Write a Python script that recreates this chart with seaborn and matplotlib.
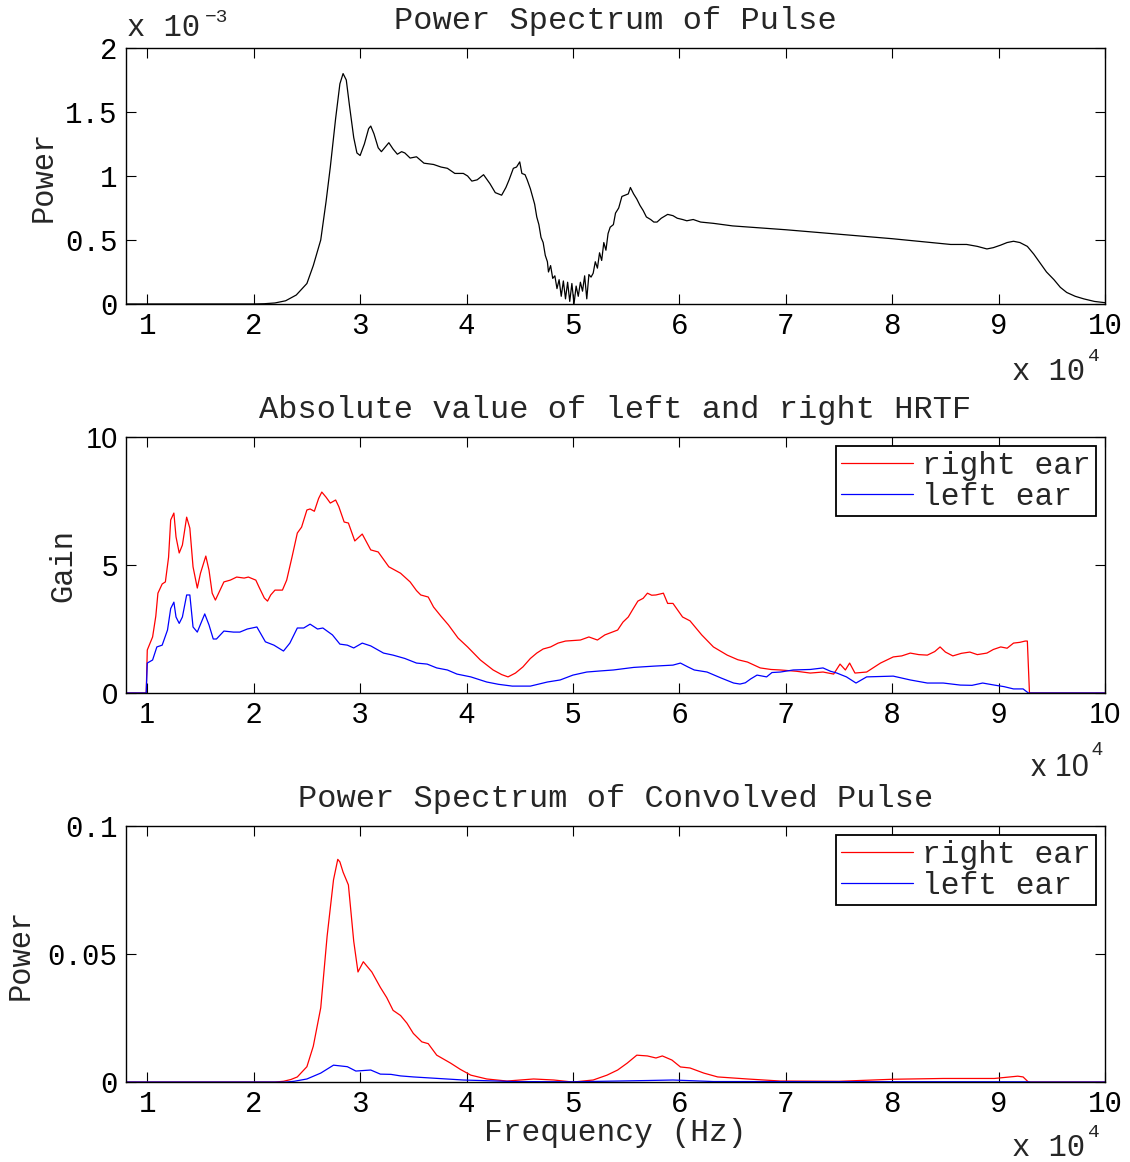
import numpy as np
import pandas as pd
import matplotlib
import matplotlib.pyplot as plt
import seaborn as sns

matplotlib.use("Agg")

sns.set_style("ticks")
MONO = ['Liberation Mono', 'DejaVu Sans Mono']
SANS = ['Liberation Sans', 'DejaVu Sans']
plt.rcParams['font.family'] = MONO

# frequency in units of 10^4 Hz, as on the axis
# 1) power spectrum of the pulse (units of 10^-3)
freq_pulse = [0.8, 1.5, 2.0, 2.1, 2.2, 2.3, 2.4, 2.5, 2.56, 2.63, 2.68, 2.72, 2.77, 2.81, 2.84,
              2.87, 2.90, 2.94, 2.97, 3.0, 3.04, 3.08, 3.10, 3.13, 3.17, 3.20, 3.24, 3.27, 3.31,
              3.35, 3.39, 3.42, 3.47, 3.53, 3.60, 3.69, 3.76, 3.82, 3.89, 3.97, 4.01, 4.05, 4.10,
              4.16, 4.22, 4.27, 4.33, 4.37, 4.40, 4.44, 4.47, 4.50, 4.52, 4.55, 4.57, 4.60, 4.62,
              4.64, 4.66, 4.68, 4.70, 4.72, 4.74, 4.76, 4.77, 4.79, 4.81, 4.83, 4.85, 4.87, 4.89,
              4.91, 4.93, 4.95, 4.97, 4.99, 5.01, 5.03, 5.05, 5.07, 5.09, 5.11, 5.13, 5.15, 5.17,
              5.19, 5.21, 5.23, 5.25, 5.27, 5.29, 5.31, 5.33, 5.35, 5.38, 5.40, 5.43, 5.46, 5.49,
              5.52, 5.54, 5.57, 5.60, 5.63, 5.66, 5.69, 5.73, 5.76, 5.79, 5.83, 5.89, 5.94, 5.98,
              6.03, 6.07, 6.13, 6.20, 6.32, 6.5, 7.0, 7.5, 8.0, 8.3, 8.55, 8.7, 8.8, 8.89, 8.95,
              9.02, 9.08, 9.14, 9.2, 9.27, 9.33, 9.39, 9.45, 9.52, 9.58, 9.64, 9.72, 9.80, 9.9, 10.0]
power_pulse = [0, 0, 0, 0.002, 0.008, 0.025, 0.07, 0.16, 0.3, 0.5, 0.8, 1.07, 1.45, 1.72, 1.80,
               1.75, 1.55, 1.30, 1.18, 1.16, 1.25, 1.37, 1.39, 1.33, 1.22, 1.19, 1.23, 1.26, 1.21,
               1.17, 1.19, 1.18, 1.14, 1.15, 1.10, 1.09, 1.07, 1.06, 1.02, 1.02, 1.00, 0.96, 0.97,
               1.01, 0.94, 0.87, 0.85, 0.91, 0.97, 1.06, 1.07, 1.11, 1.02, 1.01, 0.97, 0.90, 0.84,
               0.78, 0.68, 0.62, 0.52, 0.48, 0.38, 0.33, 0.25, 0.30, 0.20, 0.22, 0.12, 0.19, 0.06,
               0.18, 0.04, 0.17, 0.02, 0.16, 0.0, 0.14, 0.06, 0.17, 0.10, 0.22, 0.04, 0.23, 0.21,
               0.24, 0.33, 0.28, 0.40, 0.34, 0.48, 0.42, 0.55, 0.60, 0.62, 0.71, 0.75, 0.84, 0.85,
               0.86, 0.91, 0.86, 0.82, 0.77, 0.73, 0.68, 0.66, 0.64, 0.64, 0.67, 0.70, 0.69, 0.67,
               0.66, 0.65, 0.66, 0.64, 0.63, 0.61, 0.58, 0.545, 0.51, 0.485, 0.465, 0.465, 0.45, 0.43, 0.44,
               0.46, 0.48, 0.49, 0.48, 0.45, 0.39, 0.32, 0.25, 0.19, 0.13, 0.09, 0.06, 0.04, 0.02, 0.01]

# 2) HRTF gain
freq_hrtf_right = [0.8, 0.99, 1.0, 1.05, 1.08, 1.10, 1.14, 1.17, 1.20, 1.22, 1.25, 1.27, 1.30, 1.33,
                   1.37, 1.40, 1.43, 1.47, 1.50, 1.55, 1.58, 1.61, 1.64, 1.67, 1.72, 1.78, 1.84, 1.91,
                   1.95, 2.02, 2.05, 2.10, 2.13, 2.16, 2.20, 2.27, 2.31, 2.36, 2.41, 2.45, 2.50, 2.53,
                   2.57, 2.61, 2.64, 2.68, 2.72, 2.77, 2.80, 2.85, 2.89, 2.95, 3.02, 3.10, 3.17, 3.27,
                   3.38, 3.47, 3.53, 3.57, 3.64, 3.69, 3.76, 3.83, 3.92, 4.01, 4.13, 4.25, 4.33, 4.39,
                   4.46, 4.53, 4.60, 4.66, 4.72, 4.79, 4.86, 4.93, 5.07, 5.15, 5.23, 5.30, 5.42, 5.47,
                   5.52, 5.56, 5.61, 5.66, 5.70, 5.74, 5.78, 5.85, 5.89, 5.94, 6.03, 6.10, 6.21, 6.32,
                   6.45, 6.55, 6.64, 6.76, 6.86, 6.95, 7.1, 7.23, 7.35, 7.45, 7.51, 7.56, 7.60, 7.65,
                   7.76, 7.89, 8.01, 8.09, 8.17, 8.25, 8.33, 8.40, 8.45, 8.50, 8.57, 8.65, 8.73, 8.80,
                   8.89, 8.95, 9.02, 9.08, 9.14, 9.20, 9.25, 9.27, 9.29, 10.0]
gain_right = [0, 0, 1.68, 2.19, 3.0, 3.9, 4.26, 4.34, 5.3, 6.76, 7.03, 6.1, 5.47, 5.78,
              6.87, 6.44, 4.93, 4.1, 4.68, 5.35, 4.8, 3.9, 3.63, 3.9, 4.34, 4.41, 4.53, 4.49,
              4.53, 4.41, 4.14, 3.71, 3.59, 3.83, 4.02, 4.02, 4.41, 5.31, 6.25, 6.48, 7.15, 7.19,
              7.1, 7.6, 7.85, 7.65, 7.42, 7.54, 7.28, 6.68, 6.64, 5.94, 6.21, 5.59, 5.51, 4.93,
              4.68, 4.34, 4.0, 3.83, 3.75, 3.36, 3.0, 2.66, 2.15, 1.8, 1.29, 0.9, 0.72, 0.63,
              0.78, 1.02, 1.35, 1.56, 1.72, 1.8, 1.95, 2.03, 2.07, 2.19, 2.07, 2.27, 2.46, 2.77,
              2.97, 3.25, 3.59, 3.7, 3.9, 3.82, 3.83, 3.9, 3.5, 3.5, 2.97, 2.82, 2.27, 1.8,
              1.48, 1.3, 1.21, 0.98, 0.92, 0.9, 0.85, 0.78, 0.82, 0.74, 1.13, 0.9, 1.17, 0.78,
              0.82, 1.17, 1.41, 1.45, 1.56, 1.5, 1.48, 1.62, 1.8, 1.6, 1.45, 1.55, 1.6, 1.5,
              1.56, 1.7, 1.8, 1.75, 1.95, 1.98, 2.03, 2.03, 0, 0]

freq_hrtf_left = [0.8, 0.99, 1.0, 1.05, 1.09, 1.14, 1.19, 1.22, 1.25, 1.27, 1.30, 1.33, 1.37, 1.40,
                  1.43, 1.47, 1.54, 1.58, 1.62, 1.65, 1.72, 1.81, 1.87, 1.94, 2.03, 2.11, 2.19, 2.28,
                  2.34, 2.41, 2.47, 2.53, 2.60, 2.65, 2.74, 2.81, 2.88, 2.94, 3.02, 3.10, 3.22, 3.31,
                  3.42, 3.53, 3.63, 3.72, 3.82, 3.91, 4.04, 4.19, 4.30, 4.43, 4.60, 4.76, 4.88, 5.0,
                  5.13, 5.25, 5.38, 5.57, 5.76, 5.94, 6.01, 6.08, 6.14, 6.26, 6.39, 6.51, 6.57, 6.62,
                  6.67, 6.73, 6.82, 6.87, 6.95, 7.07, 7.23, 7.35, 7.42, 7.48, 7.57, 7.66, 7.76, 8.01,
                  8.17, 8.33, 8.48, 8.64, 8.75, 8.85, 8.96, 9.05, 9.14, 9.23, 9.28, 10.0]
gain_left = [0, 0, 1.17, 1.29, 1.8, 1.87, 2.46, 3.3, 3.55, 2.97, 2.72, 2.97, 3.83, 3.83,
             2.58, 2.38, 3.09, 2.66, 2.11, 2.11, 2.42, 2.38, 2.38, 2.5, 2.58, 2.0, 1.87, 1.64,
             1.95, 2.54, 2.54, 2.69, 2.5, 2.54, 2.27, 1.91, 1.87, 1.76, 1.95, 1.84, 1.56, 1.48,
             1.35, 1.17, 1.13, 0.98, 0.9, 0.74, 0.63, 0.43, 0.34, 0.27, 0.27, 0.43, 0.51, 0.70,
             0.82, 0.86, 0.9, 1.0, 1.05, 1.09, 1.17, 1.02, 0.9, 0.82, 0.59, 0.39, 0.35, 0.40,
             0.55, 0.7, 0.63, 0.8, 0.82, 0.9, 0.92, 0.98, 0.85, 0.78, 0.63, 0.39, 0.63, 0.66,
             0.51, 0.39, 0.39, 0.31, 0.30, 0.39, 0.31, 0.25, 0.16, 0.16, 0.0, 0]

# 3) power spectrum of the convolved pulse
freq_conv_right = [0.8, 2.2, 2.28, 2.35, 2.41, 2.50, 2.56, 2.63, 2.69, 2.75, 2.79, 2.81, 2.84, 2.89,
                   2.94, 2.98, 3.03, 3.11, 3.19, 3.25, 3.31, 3.38, 3.44, 3.50, 3.58, 3.64, 3.72, 3.85,
                   3.94, 4.04, 4.19, 4.38, 4.63, 4.82, 5.0, 5.19, 5.32, 5.42, 5.51, 5.60, 5.70, 5.78,
                   5.84, 5.93, 6.01, 6.10, 6.23, 6.36, 6.64, 6.95, 7.5, 8.01, 8.48, 8.96, 9.18, 9.23,
                   9.28, 10.0]
power_conv_right = [0, 0, 0.0003, 0.001, 0.002, 0.006, 0.014, 0.029, 0.057, 0.079, 0.087, 0.086, 0.082, 0.077,
                    0.055, 0.043, 0.047, 0.043, 0.037, 0.033, 0.028, 0.026, 0.023, 0.019, 0.0157, 0.015, 0.0105, 0.0074,
                    0.005, 0.0027, 0.0012, 0.0004, 0.0012, 0.0008, 0.0, 0.0008, 0.0027, 0.0047, 0.0074, 0.0105, 0.0102, 0.0094,
                    0.0102, 0.0086, 0.0059, 0.0055, 0.0035, 0.002, 0.0012, 0.0004, 0.0003, 0.0011, 0.0014, 0.0014, 0.0023, 0.002,
                    0.0, 0]

freq_conv_left = [0.8, 2.3, 2.38, 2.50, 2.63, 2.75, 2.88, 2.96, 3.10, 3.19, 3.29, 3.38, 3.50, 3.97,
                  4.44, 5.0, 5.7, 5.94, 6.32, 9.28, 9.3, 10.0]
power_conv_left = [0, 0, 0.0003, 0.0012, 0.0035, 0.0066, 0.006, 0.0043, 0.0047, 0.0031, 0.003, 0.0024, 0.002, 0.0008,
                   0.0002, 0.0001, 0.0006, 0.0008, 0.0002, 0.0001, 0, 0]

x_ticks = [1, 2, 3, 4, 5, 6, 7, 8, 9, 10]

fig = plt.figure(figsize=(11.30, 11.62), dpi=100)
L, W, H = 0.1115, 0.8664, 0.2203
ax1 = fig.add_axes([L, 0.7384, W, H])
ax2 = fig.add_axes([L, 0.4036, W, H])
ax3 = fig.add_axes([L, 0.0688, W, H])

sns.lineplot(x=freq_pulse, y=power_pulse, ax=ax1, color="black", linewidth=0.9, sort=False)
sns.lineplot(x=freq_hrtf_right, y=gain_right, ax=ax2, color="#ff0000", linewidth=0.9, sort=False, label="right ear")
sns.lineplot(x=freq_hrtf_left, y=gain_left, ax=ax2, color="#0000ff", linewidth=0.9, sort=False, label="left ear")
sns.lineplot(x=freq_conv_right, y=power_conv_right, ax=ax3, color="#ff0000", linewidth=0.9, sort=False, label="right ear")
sns.lineplot(x=freq_conv_left, y=power_conv_left, ax=ax3, color="#0000ff", linewidth=0.9, sort=False, label="left ear")


def fmt(v):
    return "%g" % v


setups = [
    (ax1, [0, 0.5, 1, 1.5, 2], (0, 2), MONO, "Power Spectrum of Pulse", "Power", -0.069),
    (ax2, [0, 5, 10], (0, 10), SANS, "Absolute value of left and right HRTF", "Gain", -0.049),
    (ax3, [0, 0.05, 0.1], (0, 0.1), MONO, "Power Spectrum of Convolved Pulse", "Power", -0.092),
]
for ax, yt, ylim, tick_font, title, ylab, ylab_x in setups:
    ax.set_xlim(0.8, 10)
    ax.set_ylim(*ylim)
    ax.set_xticks(x_ticks, labels=[fmt(t) for t in x_ticks])
    ax.set_yticks(yt, labels=[fmt(t) for t in yt])
    for lbl in ax.get_xticklabels() + ax.get_yticklabels():
        lbl.set_fontfamily(tick_font)
        lbl.set_fontsize(21)
    ax.tick_params(direction="in", top=True, right=True, length=7, width=0.8, pad=6, colors="black")
    for s in ax.spines.values():
        s.set_visible(True)
        s.set_linewidth(1.0)
        s.set_color("black")
    ax.set_title(title, fontsize=23, pad=14, family=MONO)
    ax.set_ylabel(ylab, fontsize=22, family=MONO)
    ax.yaxis.set_label_coords(ylab_x, 0.5)
    ax.set_xlabel("")

ax3.set_xlabel("Frequency (Hz)", fontsize=22.5, family=MONO)
ax3.xaxis.set_label_coords(0.5, -0.14)

# MATLAB style exponent labels
ax1.text(0.98, -0.266, "x 10", transform=ax1.transAxes, ha="right", va="center", fontsize=22, family=MONO)
ax1.text(0.983, -0.205, "4", transform=ax1.transAxes, ha="left", va="center", fontsize=14, family=MONO)
ax2.text(0.983, -0.293, "x 10", transform=ax2.transAxes, ha="right", va="center", fontsize=22, family=SANS)
ax2.text(0.986, -0.225, "4", transform=ax2.transAxes, ha="left", va="center", fontsize=14, family=SANS)
ax3.text(0.98, -0.258, "x 10", transform=ax3.transAxes, ha="right", va="center", fontsize=22, family=MONO)
ax3.text(0.983, -0.198, "4", transform=ax3.transAxes, ha="left", va="center", fontsize=14, family=MONO)
ax1.text(0.001, 1.078, "x 10", transform=ax1.transAxes, ha="left", va="center", fontsize=22, family=MONO)
ax1.text(0.081, 1.118, "\u22123", transform=ax1.transAxes, ha="left", va="center", fontsize=14, family=MONO)

for ax in (ax2, ax3):
    leg = ax.legend(loc="upper right", prop={"family": MONO, "size": 22.5}, frameon=True,
                    fancybox=False, framealpha=1, edgecolor="black", handlelength=2.3,
                    handletextpad=0.3, borderpad=0.15, labelspacing=0.02, borderaxespad=0.3)
    leg.get_frame().set_linewidth(1.3)

fig.savefig("out.png", dpi=100, facecolor="white")
